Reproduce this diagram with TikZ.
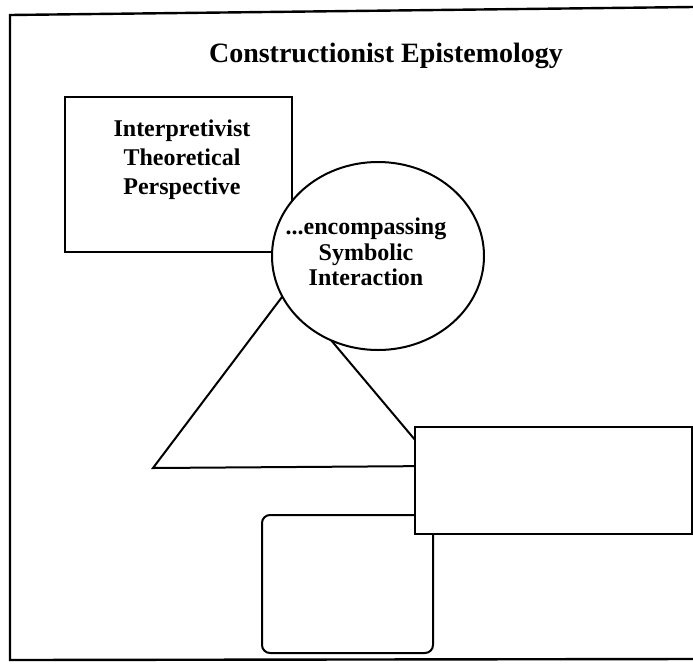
\documentclass[tikz,border=0pt]{standalone}
\usepackage{fontspec}
\setmainfont{Liberation Serif}
\usetikzlibrary{shapes.geometric}

\begin{document}
\begin{tikzpicture}[x=1pt, y=-1pt,
    outline/.style={draw, line width=2pt, fill=white, inner sep=0pt},
    bigtext/.style={font=\fontsize{24}{25.5}\selectfont\bfseries, align=center, inner sep=0pt}]

  \useasboundingbox (0,0) rectangle (693,665);

  % ---- outer frame (right side runs off the page) ----
  \draw[line width=2.4pt] (693,7) -- (10,15) -- (10,660) -- (693,659);

  % title
  \node[anchor=base, font=\fontsize{28}{30}\selectfont\bfseries, inner sep=0pt]
    (title) at (386,62) {Constructionist Epistemology};

  % ---- theoretical perspective box ----
  \node[outline, rectangle, minimum width=227pt, minimum height=155pt]
    (persp) at (178.5,174.5) {};
  \node[bigtext, font=\fontsize{24}{29}\selectfont\bfseries] (persptext) at (182,160)
    {Interpretivist\\Theoretical\\Perspective};

  % ---- triangle (sits behind the circle and the right box) ----
  \coordinate (apex)  at (288,289);
  \coordinate (left)  at (153,468);
  \coordinate (right) at (437,466);
  \draw[line width=2pt, line join=miter] (apex) -- (left) -- (right) -- cycle;

  % ---- circle, drawn over box and triangle ----
  \node[outline, ellipse, minimum width=212pt, minimum height=188pt]
    (symint) at (378,256) {};
  \node[bigtext] (symtext) at (366,252)
    {...encompassing\\Symbolic\\Interaction};

  % ---- empty boxes at the bottom ----
  \node[outline, rectangle, rounded corners=8pt,
        minimum width=171pt, minimum height=138pt]
    (method) at (347.5,584) {};
  \node[outline, rectangle, minimum width=277pt, minimum height=107pt]
    (empty) at (553.5,480.5) {};

\end{tikzpicture}
\end{document}
